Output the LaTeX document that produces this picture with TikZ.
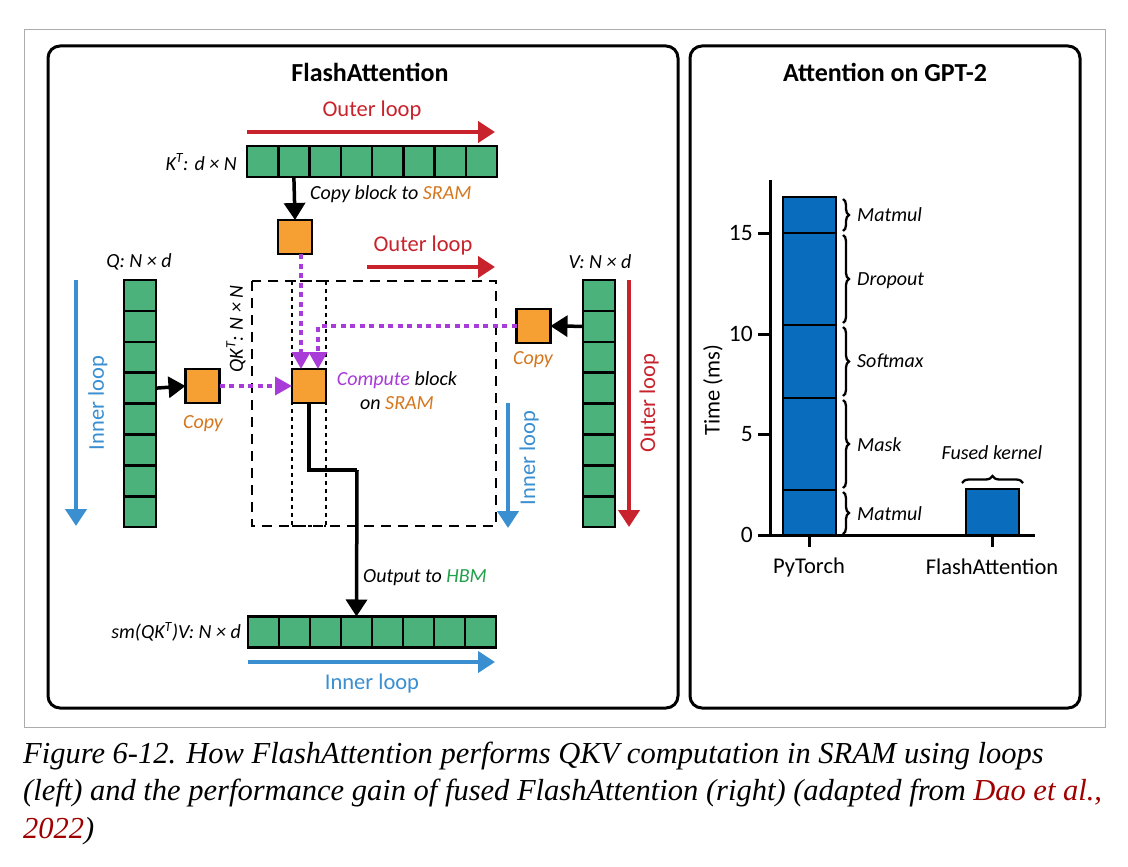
\documentclass[tikz,border=0pt]{standalone}
\usepackage{fontspec}
\setmainfont{Carlito}
\newfontfamily\capfont{Liberation Serif}
\usetikzlibrary{arrows.meta,decorations.pathreplacing,calc}
\definecolor{cgreen}{HTML}{4CB27B}
\definecolor{corange}{HTML}{F6A034}
\definecolor{ctorange}{HTML}{D5771E}
\definecolor{cred}{HTML}{C8232C}
\definecolor{cblue}{HTML}{3A8FD1}
\definecolor{cpurple}{HTML}{A93BD9}
\definecolor{ctgreen}{HTML}{22A04B}
\definecolor{cbar}{HTML}{0A6CBC}
\definecolor{cdark}{HTML}{A00000}
\begin{document}
\begin{tikzpicture}[x=1pt,y=-1pt,
  panel/.style={draw=black,line width=3pt,rounded corners=12pt},
  cell/.style={draw=black,line width=2.5pt,fill=cgreen,minimum width=31.25pt,minimum height=31pt,inner sep=0pt,outer sep=0pt},
  vcell/.style={draw=black,line width=2.5pt,fill=cgreen,minimum width=32pt,minimum height=30.9pt,inner sep=0pt,outer sep=0pt},
  obox/.style={draw=black,line width=2.8pt,fill=corange,minimum size=34pt,inner sep=0pt,outer sep=0pt},
  txt/.style={inner sep=0pt,font=\fontsize{22.5}{26}\selectfont},
  itxt/.style={inner sep=0pt,font=\fontsize{20}{24}\selectfont\itshape},
  ttl/.style={inner sep=0pt,font=\fontsize{26}{30}\selectfont\bfseries},
  redarrow/.style={draw=cred,line width=4pt,-{Triangle[length=17pt,width=21pt]}},
  bluearrow/.style={draw=cblue,line width=4pt,-{Triangle[length=17pt,width=21pt]}},
  blkarrow/.style={draw=black,line width=3.5pt,-{Triangle[length=17pt,width=21pt]}},
  purparrow/.style={draw=cpurple,line width=3.5pt,dash pattern=on 5pt off 4.5pt,-{Triangle[length=17pt,width=18pt]}},
  brc/.style={draw=black,line width=2.3pt,decorate,decoration={brace,amplitude=6pt}},
  axis/.style={draw=black,line width=3pt},
  segm/.style={draw=black,line width=2.5pt,fill=cbar},
  captxt/.style={inner sep=0pt,anchor=base west,font=\capfont\itshape\fontsize{30.5}{36}\selectfont}
]
\useasboundingbox (0,0) rectangle (1128,867);
\fill[white] (0,0) rectangle (1128,867);
\draw[gray!65,line width=1pt] (24,30) rectangle (1105,727);
\draw[panel] (48,46) rectangle (678,708);
\draw[panel] (690,46) rectangle (1080,708);

\node[ttl] (t1) at (370,72) {FlashAttention};
\node[ttl] (t2) at (885,72) {Attention on GPT-2};

% ---------- left panel ----------
\foreach \i in {0,...,7} \node[cell] (k\i) at ({247+15.625+31.25*\i},161.5) {};
\node[itxt,anchor=east] (klab) at (237,162) {K\textsuperscript{T}: d × N};
\coordinate (ro1s) at (247,132);
\coordinate (ro1e) at (495,132);
\draw[redarrow] (ro1s) -- (ro1e);
\node[txt,text=cred] (ro1t) at (372,111) {Outer loop};

\node[obox] (kc) at (295,237) {};
\draw[blkarrow] (k1.south) -- (kc.north);
\node[itxt,anchor=west] (kct) at (310,194) {Copy block to \textcolor{ctorange}{SRAM}};

\coordinate (ro2s) at (367,267);
\coordinate (ro2e) at (495,267);
\draw[redarrow] (ro2s) -- (ro2e);
\node[txt,text=cred] (ro2t) at (423,246) {Outer loop};

\draw[black,line width=2.8pt,dash pattern=on 10pt off 7pt] (252,281) rectangle (496,526);
\draw[black,line width=2.5pt,dash pattern=on 3.5pt off 4.5pt] (292,281) -- (292,526);
\draw[black,line width=2.5pt,dash pattern=on 3.5pt off 4.5pt] (326,281) -- (326,526);
\draw[black,line width=2.5pt,dash pattern=on 3.5pt off 4.5pt] (292,281) -- (326,281);
\draw[black,line width=2.5pt,dash pattern=on 3.5pt off 4.5pt] (292,526) -- (326,526);

\node[obox] (comp) at (309,386) {};
\node[itxt,align=center] (compt) at (397,391) {\textcolor{cpurple}{Compute} block\\on \textcolor{ctorange}{SRAM}};

\foreach \i in {0,...,7} \node[vcell] (q\i) at (140,{280+15.45+30.9*\i}) {};
\node[itxt] (qlab) at (139,262) {Q: N × d};
\coordinate (bl1s) at (76,280);
\coordinate (bl1e) at (76,526);
\draw[bluearrow] (bl1s) -- (bl1e);
\node[txt,text=cblue,rotate=90] (bl1t) at (98,403) {Inner loop};
\node[obox] (qc) at (202.5,386) {};
\draw[blkarrow] (q3.east) -- (qc.west);
\node[itxt,text=ctorange] (qct) at (203,424) {Copy};
\node[itxt,rotate=90] (qkt) at (236,329) {QK\textsuperscript{T}: N × N};

\foreach \i in {0,...,7} \node[vcell] (v\i) at (599,{280+15.45+30.9*\i}) {};
\node[itxt] (vlab) at (600,262) {V: N × d};
\node[obox] (vc) at (533.5,326) {};
\draw[blkarrow] (v1.west) -- (vc.east);
\node[itxt,text=ctorange] (vct) at (533,360) {Copy};
\coordinate (ro3s) at (629,280);
\coordinate (ro3e) at (629,527);
\draw[redarrow] (ro3s) -- (ro3e);
\node[txt,text=cred,rotate=90] (ro3t) at (649,403) {Outer loop};
\coordinate (bl2s) at (508,403);
\coordinate (bl2e) at (508,528);
\draw[bluearrow] (bl2s) -- (bl2e);
\node[txt,text=cblue,rotate=90] (bl2t) at (529,458) {Inner loop};

\coordinate (kcout) at (301,254);
\draw[purparrow] (kcout) -- (kcout |- comp.north);
\coordinate (vin) at (318,386);
\draw[purparrow] (vc.west) -| (vin |- comp.north);
\draw[purparrow] (qc.east) -- (comp.west);

\foreach \i in {0,...,7} \node[cell,minimum width=31pt] (o\i) at ({248+15.5+31*\i},632) {};
\node[itxt,anchor=east] (olab) at (241,632) {sm(QK\textsuperscript{T})V: N × d};
\coordinate (ocorner) at (357,470);
\draw[draw=black,line width=3.5pt] (comp.south) |- (ocorner);
\draw[blkarrow] (ocorner) -- (o3.north);
\node[itxt,anchor=west] (ot) at (363,578) {Output to \textcolor{ctgreen}{HBM}};
\coordinate (bl3s) at (248,662);
\coordinate (bl3e) at (495,662);
\draw[bluearrow] (bl3s) -- (bl3e);
\node[txt,text=cblue] (bl3t) at (372,683) {Inner loop};

% ---------- right panel: chart ----------
\draw[segm] (783,490) rectangle (836,535);
\draw[segm] (783,398) rectangle (836,490);
\draw[segm] (783,325) rectangle (836,398);
\draw[segm] (783,233) rectangle (836,325);
\draw[segm] (783,197) rectangle (836,233);
\draw[segm] (966,489) rectangle (1019,535);
\draw[axis] (770,180) -- (770,536.5);
\draw[axis] (768.5,535) -- (1035,535);
\foreach \v/\yy in {0/535,5/434.5,10/334,15/233.5} {
  \draw[axis] (758,\yy) -- (770,\yy);
  \node[txt,anchor=east,font=\fontsize{23.5}{26}\selectfont] (tick\v) at (753,\yy) {\v};
}
\draw[axis] (809,535) -- (809,547);
\draw[axis] (992,535) -- (992,547);
\node[txt,rotate=90] (ylab) at (713,390) {Time (ms)};
\node[txt] (xl1) at (809,567) {PyTorch};
\node[txt] (xl2) at (992,567) {FlashAttention};

\draw[brc] (843,199) -- (843,231);
\draw[brc] (843,235) -- (843,323);
\draw[brc] (843,327) -- (843,396);
\draw[brc] (843,400) -- (843,488);
\draw[brc] (843,492) -- (843,534);
\node[itxt,anchor=west] (b1) at (857,215) {Matmul};
\node[itxt,anchor=west] (b2) at (857,281) {Dropout};
\node[itxt,anchor=west] (b3) at (857,361) {Softmax};
\node[itxt,anchor=west] (b4) at (857,445) {Mask};
\node[itxt,anchor=west] (b5) at (857,514) {Matmul};
\draw[brc,decoration={brace,amplitude=7pt}] (962,483) -- (1023,483);
\node[itxt] (fk) at (992,453) {Fused kernel};

% ---------- caption ----------
\node[captxt] (c1) at (23,763) {Figure 6-12. How FlashAttention performs QKV computation in SRAM using loops};
\node[captxt] (c2) at (23,800) {(left) and the performance gain of fused FlashAttention (right) (adapted from \textcolor{cdark}{Dao et al.,}};
\node[captxt] (c3) at (23,838) {\textcolor{cdark}{2022})};
\end{tikzpicture}
\end{document}
